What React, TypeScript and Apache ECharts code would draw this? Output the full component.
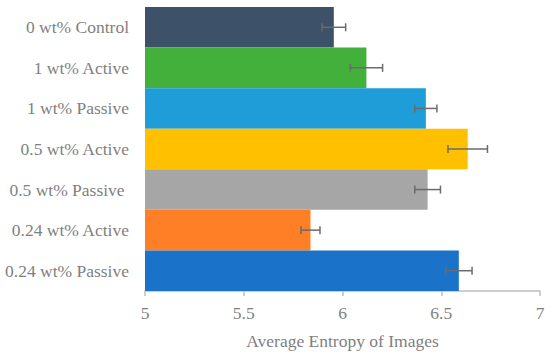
import React, { useEffect, useRef } from "react";
import * as echarts from "echarts";

const categories = [
  "0 wt% Control",
  "1 wt% Active",
  "1 wt% Passive",
  "0.5 wt% Active",
  "0.5 wt% Passive ",
  "0.24 wt% Active",
  "0.24 wt% Passive",
];
const values = [5.956, 6.121, 6.422, 6.634, 6.431, 5.838, 6.589];
const errors = [0.06, 0.082, 0.056, 0.1, 0.065, 0.048, 0.067];
const colors = ["#3D5269", "#43B03B", "#1E9DD8", "#FFC000", "#A6A6A6", "#FF7F27", "#1A73C9"];
const xTicks = [5, 5.5, 6, 6.5, 7];

export default function App() {
  const ref = useRef<HTMLDivElement>(null);
  useEffect(() => {
    document.body.style.margin = "0";
    if (!ref.current) return;
    const chart = echarts.init(ref.current, undefined, { renderer: "svg" });
    const font = "Times New Roman, Liberation Serif, serif";
    const fs = 17.5;
    const txt = "#7f7f7f";
    chart.setOption({
      animation: false,
      grid: { left: 145, right: 10, top: 7, bottom: 62, containLabel: false },
      xAxis: {
        type: "value",
        min: xTicks[0],
        max: xTicks[xTicks.length - 1],
        interval: 0.5,
        name: "Average Entropy of Images",
        nameLocation: "middle",
        nameGap: 41,
        nameTextStyle: { fontFamily: font, fontSize: fs, color: txt },
        axisLine: { show: true, lineStyle: { color: "#BFBFBF", width: 1.5 } },
        axisTick: { show: true, length: 5, lineStyle: { color: "#BFBFBF", width: 1.5 } },
        splitLine: { show: false },
        axisLabel: { fontFamily: font, fontSize: fs, color: txt, margin: 13 },
      },
      yAxis: {
        type: "category",
        data: categories,
        inverse: true,
        axisLine: { show: false },
        axisTick: { show: false },
        axisLabel: { fontFamily: font, fontSize: fs, color: txt, margin: 16 },
      },
      series: [
        {
          type: "bar",
          data: values.map((v, i) => ({ value: v, itemStyle: { color: colors[i] } })),
          barCategoryGap: "0%",
        },
        {
          type: "custom",
          data: values.map((v, i) => [i, v - errors[i], v + errors[i]]),
          encode: { x: [1, 2], y: 0 },
          renderItem: (params: any, api: any) => {
            const idx = api.value(0);
            const lo = api.coord([api.value(1), idx]);
            const hi = api.coord([api.value(2), idx]);
            const y = lo[1];
            const cap = 4;
            const style = { stroke: "#6b6b6b", lineWidth: 1.5 };
            return {
              type: "group",
              children: [
                { type: "line", shape: { x1: lo[0], y1: y, x2: hi[0], y2: y }, style },
                { type: "line", shape: { x1: lo[0], y1: y - cap, x2: lo[0], y2: y + cap }, style },
                { type: "line", shape: { x1: hi[0], y1: y - cap, x2: hi[0], y2: y + cap }, style },
              ],
            };
          },
          z: 5,
        },
      ],
    });
    return () => chart.dispose();
  }, []);
  return <div ref={ref} style={{ width: 550, height: 355 }} />;
}
